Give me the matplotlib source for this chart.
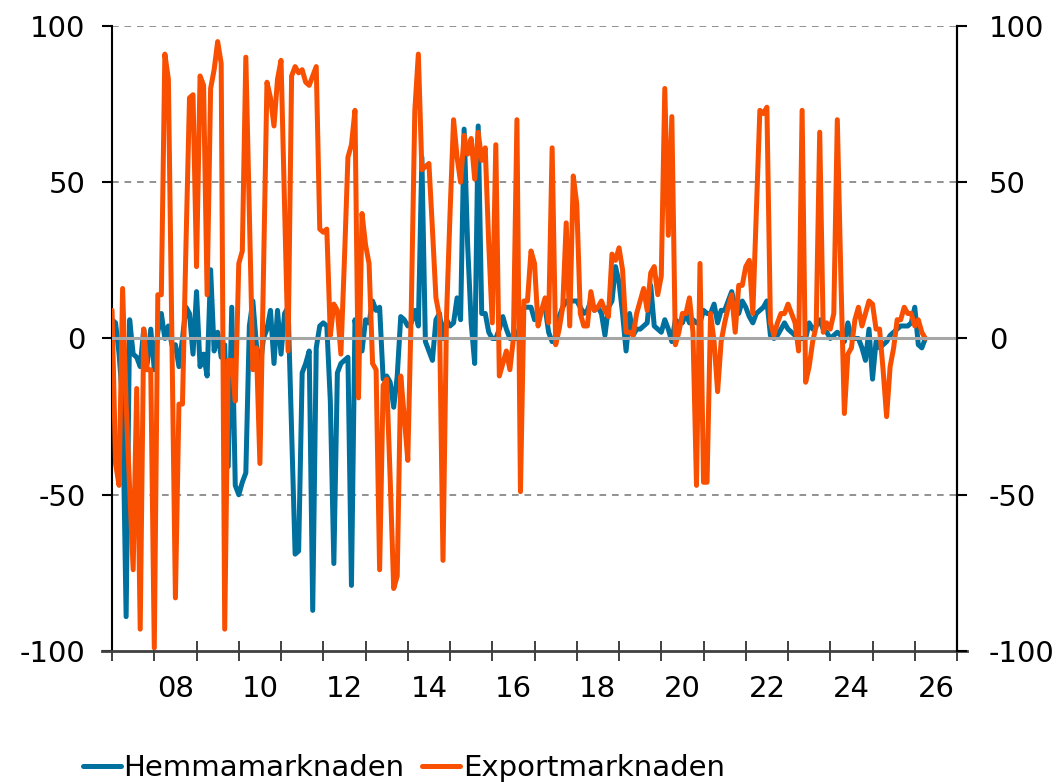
import matplotlib
matplotlib.use("Agg")
import matplotlib.pyplot as plt
import numpy as np

plt.rcParams['font.family'] = 'DejaVu Sans'
plt.rcParams['axes.unicode_minus'] = False

# monthly data, starting Jan 2007
start_year = 2007

hemma = [
    6, 5, -5, -20, -89, 6, -5, -6, -9, 3, -8, 3,            # 2007
    -10, 2, 8, 0, 4, -2, -2, -9, 0, 10, 8, -5,              # 2008
    15, -9, -5, -12, 22, -4, 2, -6, -2, -41, 10, -47,       # 2009
    -50, -46, -43, 4, 12, -2, -10, 0, 3, 9, -8, 9,          # 2010
    -5, 8, 10, -30, -69, -68, -11, -8, -4, -87, -3, 4,      # 2011
    5, 4, -20, -72, -11, -8, -7, -6, -79, 6, -3, -4,        # 2012
    6, 5, 12, 9, 10, -13, -12, -14, -22, -12, 7, 6,         # 2013
    4, 5, 9, 4, 58, -1, -4, -7, 6, 8, 0, 6,                 # 2014
    4, 5, 13, 6, 67, 30, 5, -8, 68, 8, 8, 2,                # 2015
    0, 0, 3, 7, 3, 0, 0, 0, 5, 10, 10, 10,                  # 2016
    6, 8, 9, 10, 2, -1, 0, 7, 10, 12, 12, 12,               # 2017
    12, 10, 8, 9, 12, 9, 10, 8, 1, 10, 12, 23,              # 2018
    18, 8, -4, 8, 1, 3, 3, 4, 5, 17, 4, 3,                  # 2019
    2, 6, 3, -1, 6, 5, 5, 8, 5, 6, 5, 5,                    # 2020
    9, 8, 8, 11, 5, 9, 9, 12, 15, 10, 8, 12,                # 2021
    10, 7, 5, 8, 9, 10, 12, 1, 0, 1, 3, 5,                  # 2022
    3, 2, 1, 0, 0, 0, 5, 3, 4, 6, 3, 2,                     # 2023
    0, 1, 2, 1, -1, 5, 0, 0, 0, -3, -7, 3,                  # 2024
    -13, -1, -3, -2, -1, 1, 2, 3, 4, 4, 4, 5,               # 2025
    10, -2, -3, 0,                                          # 2026
]

export = [
    9, -40, -47, 16, -21, -48, -74, -16, -93, 3, -10, -10,  # 2007
    -99, 14, 14, 91, 83, 0, -83, -21, -21, 30, 77, 78,      # 2008
    23, 84, 81, 14, 80, 86, 95, 88, -93, -7, -7, -20,       # 2009
    24, 28, 90, 40, -10, -3, -40, 20, 82, 77, 68, 83,       # 2010
    89, 42, -4, 84, 87, 85, 86, 82, 81, 84, 87, 35,         # 2011
    34, 35, 1, 11, 9, -5, 25, 58, 62, 73, -19, 40,          # 2012
    30, 24, -8, -10, -74, -15, -13, -45, -80, -76, -12, -25,  # 2013
    -39, 10, 73, 91, 54, 55, 56, 35, 13, 7, -71, 7,         # 2014
    40, 70, 58, 50, 65, 59, 64, 51, 66, 57, 61, 30,         # 2015
    5, 62, -12, -8, -4, -10, 0, 70, -49, 12, 12, 28,        # 2016
    24, 4, 9, 13, 5, 61, -2, 3, 10, 37, 4, 52,              # 2017
    43, 8, 4, 4, 15, 9, 10, 12, 9, 7, 27, 25,               # 2018
    29, 22, 2, 2, 1, 8, 12, 16, 9, 21, 23, 14,              # 2019
    20, 80, 33, 71, -2, 2, 8, 8, 13, 2, -47, 24,            # 2020
    -46, -46, 8, -1, -17, -1, 5, 10, 14, 2, 17, 17,         # 2021
    23, 25, 8, 40, 73, 72, 74, 5, 1, 5, 8, 8,               # 2022
    11, 8, 5, -4, 73, -14, -9, -1, 4, 66, 2, 5,             # 2023
    3, 8, 70, 20, -24, -5, -3, 6, 10, 4, 8, 12,             # 2024
    11, 3, 3, -10, -25, -9, -3, 6, 6, 10, 8, 8,             # 2025
    4, 6, 2, 0,                                             # 2026
]

label_years = [2008, 2010, 2012, 2014, 2016, 2018, 2020, 2022, 2024, 2026]
year_labels = ['08', '10', '12', '14', '16', '18', '20', '22', '24', '26']
yticks = [-100, -50, 0, 50, 100]

blue = '#00709E'
orange = '#F84F00'

x = start_year + np.arange(len(hemma)) / 12.0

fig = plt.figure(figsize=(10.61, 7.82), dpi=100)
ax = fig.add_axes([0.1056, 0.1675, 0.7964, 0.7993])

ax.plot(x, hemma, color=blue, lw=3.6, solid_joinstyle='round', solid_capstyle='round', zorder=2,
        label='Hemmamarknaden')
ax.plot(x, export, color=orange, lw=3.6, solid_joinstyle='round', solid_capstyle='round', zorder=3,
        label='Exportmarknaden')
ax.axhline(0, color='#a6a6a6', lw=2.2, zorder=4)

ax.set_xlim(2007, 2027)
ax.set_ylim(-100, 100)

for v in [50, -50, 100]:
    ax.axhline(v, color='#7f7f7f', lw=1.2, ls=(0, (4, 3.5)), zorder=1)

ax.spines['top'].set_visible(False)
ax.spines['bottom'].set_visible(False)
ax.spines['left'].set_linewidth(1.5)
ax.spines['right'].set_linewidth(1.5)
ax.plot([-0.012, 1.012], [0, 0], transform=ax.transAxes, color='#404040', lw=2,
        clip_on=False, zorder=5)

ax.set_xticks(np.arange(2007, 2028))
ax.set_xticklabels([])
ax.set_xticks([yr + 0.5 for yr in label_years], minor=True)
ax.set_xticklabels(year_labels, minor=True, fontsize=21)
ax.tick_params(axis='x', which='major', direction='inout', length=14, width=1.2, color='#202020')
ax.tick_params(axis='x', which='minor', length=0, pad=17)

ax.set_yticks(yticks)
ax.set_yticklabels([str(v) for v in yticks], fontsize=21)
ax.tick_params(axis='y', direction='out', length=7, width=1.5, pad=12)

ax2 = ax.twinx()
ax2.set_ylim(-100, 100)
ax2.set_yticks(yticks)
ax2.set_yticklabels([str(v) for v in yticks], fontsize=21)
ax2.tick_params(axis='y', direction='out', length=7, width=1.5, pad=16)
for s in ['top', 'bottom', 'left']:
    ax2.spines[s].set_visible(False)
ax2.spines['right'].set_linewidth(1.5)

fig.legend(handles=ax.get_lines()[:2], loc='center left', bbox_to_anchor=(0.078, 0.018),
           ncol=2, frameon=False, fontsize=21, handlelength=1.3, handletextpad=0.1,
           columnspacing=0.6, borderpad=0, borderaxespad=0)

fig.savefig('out.png', dpi=100)
